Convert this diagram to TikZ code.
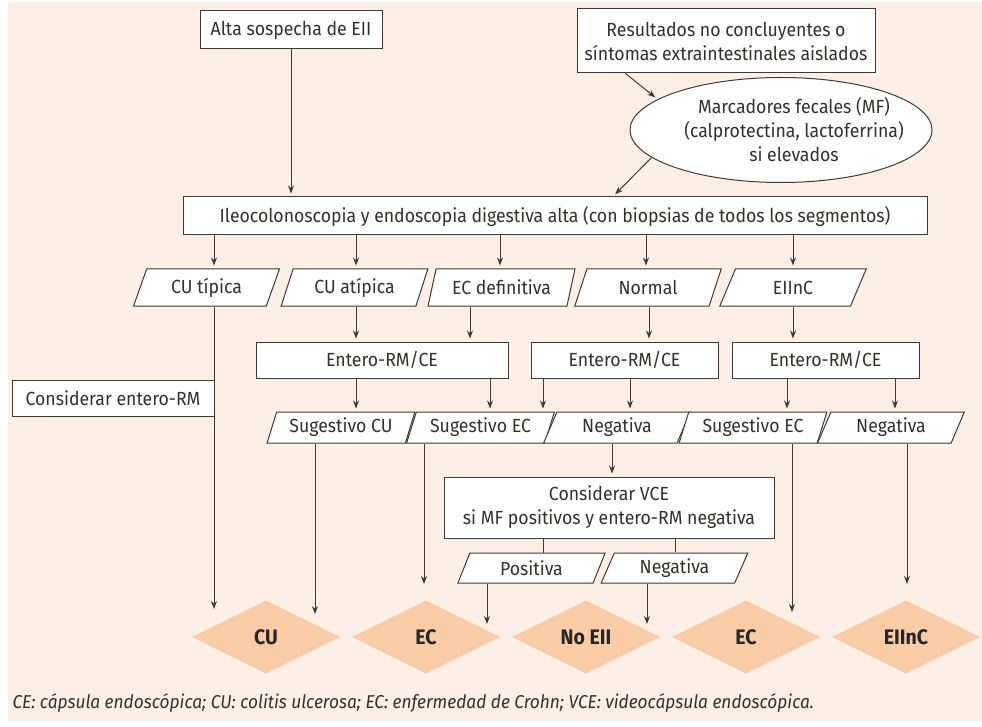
\documentclass[tikz,border=0pt]{standalone}
\usepackage{fontspec}
\setmainfont{Fira Sans}[FakeStretch=0.93]
\usetikzlibrary{shapes.geometric,arrows.meta}
\definecolor{bgpeach}{RGB}{253,239,229}
\definecolor{dpeach}{RGB}{249,204,166}
\definecolor{lncol}{RGB}{62,58,56}
\definecolor{txt}{RGB}{52,48,46}
\begin{document}
\begin{tikzpicture}[x=1pt,y=-1pt,
 font=\fontsize{19}{24}\selectfont, text=txt,
 box/.style={draw=lncol, line width=1pt, fill=white, inner sep=0pt, align=center},
 para/.style={trapezium, trapezium left angle=68, trapezium right angle=112, trapezium stretches=true, draw=lncol, line width=1pt, fill=white, inner sep=0pt, minimum width=147pt},
 res/.style={diamond, fill=dpeach, inner sep=0pt, minimum width=148pt, minimum height=73pt, text=black!85, font=\fontsize{21}{24}\selectfont\bfseries},
 arr/.style={draw=lncol, line width=1pt, -{Stealth[length=8pt,width=6pt]}, shorten >=3pt},
 plain/.style={draw=lncol, line width=1pt}]
\useasboundingbox (0,0) rectangle (982,727);
\fill[white] (0,0) rectangle (982,727);
\fill[bgpeach] (8,2) rectangle (982,721);
% x positions
\foreach \x in {214,315,356,424,470,487,490,500,543,612,613,630,646,647,649,675,787,792,793,895,907}
  \coordinate (x\x) at (\x,0);
\coordinate (t1) at (214,612);
\coordinate (t2) at (315,617);
\coordinate (t3) at (424,587);
\coordinate (t4) at (792,615);
\coordinate (t5) at (907,587);
\coordinate (t6) at (487,627);
\coordinate (t7) at (647,627);
% nodes
\node[box, minimum width=182pt, minimum height=38pt] (alta) at (291,30) {Alta sospecha de EII};
\node[box, minimum width=298pt, minimum height=64pt] (resu) at (726,41) {Resultados no concluyentes o\\síntomas extraintestinales aislados};
\node[ellipse, draw=lncol, line width=1pt, fill=white, inner xsep=-30pt, inner ysep=0pt, minimum width=302pt, minimum height=105pt, align=center] (mf) at (781,130) {\hspace*{26pt}Marcadores fecales (MF)\\\hspace*{26pt}(calprotectina, lactoferrina)\\\hspace*{26pt}si elevados};
\node[box, minimum width=744pt, minimum height=38pt] (ileo) at (555,216) {Ileocolonoscopia y endoscopia digestiva alta (con biopsias de todos los segmentos)};
\node[para, minimum height=37pt] (cutip) at (206.5,287.5) {CU típica};
\node[para, minimum height=37pt] (cuatip) at (354.5,287.5) {CU atípica};
\node[para, minimum height=37pt] (ecdef) at (501.5,287.5) {EC definitiva};
\node[para, minimum height=37pt] (normal) at (648,287.5) {Normal};
\node[para, minimum height=37pt] (eiinc) at (793,287.5) {EIInC};
\node[box, minimum width=252pt, minimum height=36pt] (ent1) at (382,360) {Entero-RM/CE};
\node[box, minimum width=187pt, minimum height=36pt] (ent2) at (624.5,360) {Entero-RM/CE};
\node[box, minimum width=187pt, minimum height=36pt] (ent3) at (825.5,360) {Entero-RM/CE};
\node[box, minimum width=202pt, minimum height=36pt] (cerm) at (113,398) {Considerar entero-RM};
\node[para, minimum width=148pt, minimum height=31pt] (sugcu) at (341,427.5) {Sugestivo CU};
\node[para, minimum width=148pt, minimum height=31pt] (sugeca) at (480.5,427.5) {Sugestivo EC};
\node[para, minimum width=148pt, minimum height=31pt] (nega) at (617,427.5) {Negativa};
\node[para, minimum width=148pt, minimum height=31pt] (sugecb) at (753,427.5) {Sugestivo EC};
\node[para, minimum width=148pt, minimum height=31pt] (negb) at (891,427.5) {Negativa};
\node[box, minimum width=330pt, minimum height=61pt] (vce) at (609,507.5) {Considerar VCE\\si MF positivos y entero-RM negativa};
\node[para, minimum width=148pt, minimum height=30pt] (posit) at (531.5,568) {Positiva};
\node[para, minimum width=148pt, minimum height=30pt] (negc) at (674.5,568) {Negativa};
\node[res] (dcu) at (266,637) {CU};
\node[res] (deca) at (426,637) {EC};
\node[res] (dno) at (586,637) {No EII};
\node[res] (decb) at (746,637) {EC};
\node[res] (deiinc) at (906,637) {EIInC};
\node[anchor=west, font=\fontsize{18.6}{22}\selectfont\itshape] (foot) at (9,703) {CE: cápsula endoscópica; CU: colitis ulcerosa; EC: enfermedad de Crohn; VCE: videocápsula endoscópica.};
% connectors
\draw[arr] (alta.south) -- (alta.south |- ileo.north);
\draw[arr] ([xshift=49pt]resu.south west) -- (mf.166);
\draw[arr] (mf.192) -- (ileo.north -| x613);
\draw[arr] (ileo.south -| x214) -- (cutip.north -| x214);
\draw[arr] (ileo.south -| x356) -- (cuatip.north -| x356);
\draw[arr] (ileo.south -| x500) -- (ecdef.north -| x500);
\draw[arr] (ileo.south -| x646) -- (normal.north -| x646);
\draw[arr] (ileo.south -| x793) -- (eiinc.north -| x793);
\draw[arr] (cuatip.south -| x356) -- (ent1.north -| x356);
\draw[arr] (ecdef.south -| x470) -- (ent1.north -| x470);
\draw[arr] (normal.south -| x649) -- (ent2.north -| x649);
\draw[arr] (eiinc.south -| x793) -- (ent3.north -| x793);
\draw[arr] (cutip.south -| x214) -- (t1);
\draw[arr] (ent1.south -| x356) -- (sugcu.north -| x356);
\draw[arr] (ent1.south -| x490) -- (sugeca.north -| x490);
\draw[arr] (ent2.south -| x543) -- (sugeca.north -| x543);
\draw[arr] (ent2.south -| x630) -- (nega.north -| x630);
\draw[arr] (ent3.south -| x787) -- (sugecb.north -| x787);
\draw[arr] (ent3.south -| x895) -- (negb.north -| x895);
\draw[arr] (sugcu.south -| x315) -- (t2);
\draw[arr] (sugeca.south -| x424) -- (t3);
\draw[arr] (nega.south -| x612) -- (vce.north -| x612);
\draw[arr] (sugecb.south -| x792) -- (t4);
\draw[arr] (negb.south -| x907) -- (t5);
\draw[plain] (vce.south -| x543) -- (posit.north -| x543);
\draw[plain] (vce.south -| x675) -- (negc.north -| x675);
\draw[arr] (posit.south -| x487) -- (t6);
\draw[arr] (negc.south -| x647) -- (t7);
\end{tikzpicture}
\end{document}
